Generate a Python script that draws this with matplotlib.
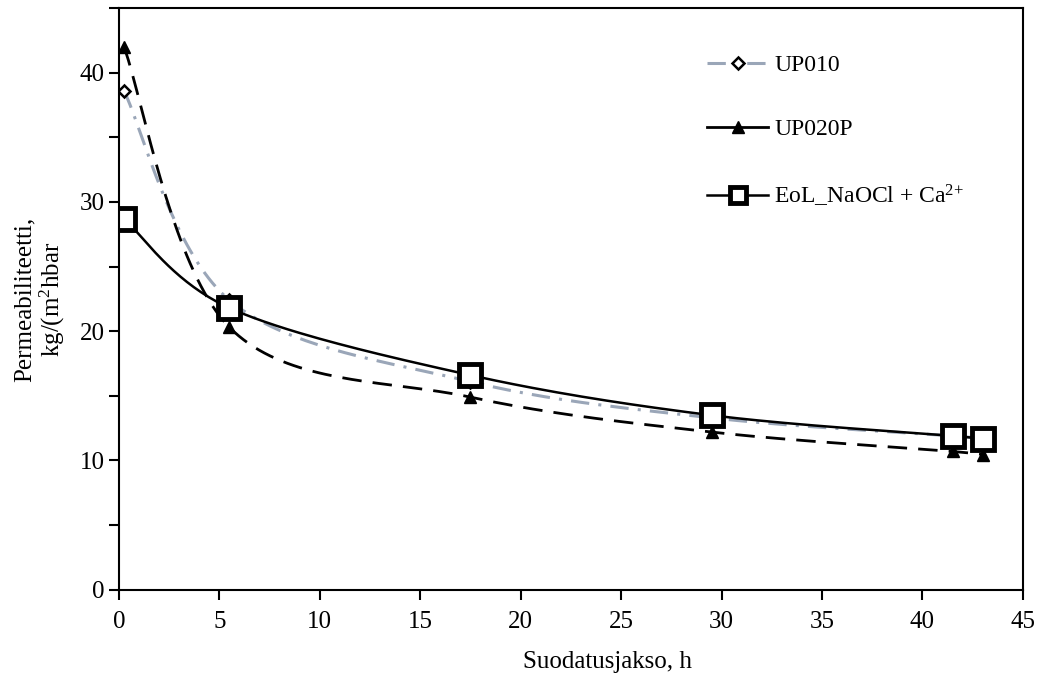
import numpy as np
import matplotlib.pyplot as plt
from matplotlib.ticker import MultipleLocator

plt.rcParams['font.family'] = ['Liberation Serif', 'DejaVu Serif']
plt.rcParams['mathtext.fontset'] = 'custom'
plt.rcParams['mathtext.rm'] = 'Liberation Serif'
plt.rcParams['mathtext.default'] = 'regular'

# filtration time (h)
hours = [0.25, 5.5, 17.5, 29.5, 41.5, 43.0]

# permeability kg/(m2 h bar)
up010 = [38.6, 22.4, 16.1, 13.3, 11.9, 11.7]
up020p = [42.0, 20.3, 14.9, 12.2, 10.7, 10.4]
eol = [28.7, 21.8, 16.6, 13.5, 11.9, 11.7]

labels = ['UP010', 'UP020P', 'EoL_NaOCl + Ca$^{2{+}}$']


def smooth(x, y, n=40):
    # excel-style smoothed line (uniform catmull-rom)
    p = np.column_stack([x, y]).astype(float)
    p = np.vstack([p[0], p, p[-1]])
    out = []
    t = np.linspace(0, 1, n)[:, None]
    for i in range(1, len(p) - 2):
        p0, p1, p2, p3 = p[i - 1], p[i], p[i + 1], p[i + 2]
        seg = 0.5 * ((2 * p1) + (-p0 + p2) * t + (2 * p0 - 5 * p1 + 4 * p2 - p3) * t ** 2
                     + (-p0 + 3 * p1 - 3 * p2 + p3) * t ** 3)
        out.append(seg)
    out = np.vstack(out)
    return out[:, 0], out[:, 1]


fig = plt.figure(figsize=(10.39, 6.74), dpi=100)
ax = fig.add_axes([0.1145, 0.125, 0.8700, 0.8630])

grey = '#9aa6b8'
dashdot = (0, (6, 3, 1, 3))

# UP010
sx, sy = smooth(hours, up010)
ax.plot(sx, sy, color=grey, lw=2.2, ls=dashdot)
ax.plot(hours, up010, ls='none', marker='D', ms=6, mfc='white', mec='black', mew=1.8)

# UP020P
sx, sy = smooth(hours, up020p)
ax.plot(sx, sy, color='black', lw=2, ls=(0, (7, 4)))
ax.plot(hours, up020p, ls='none', marker='^', ms=8, color='black')

# EoL
sx, sy = smooth(hours, eol)
ax.plot(sx, sy, color='black', lw=1.8)
ax.plot(hours, eol, ls='none', marker='s', ms=16, mfc='white', mec='black', mew=3.5)

# legend handles
h1, = ax.plot([], [], color=grey, lw=2.2, ls=dashdot, marker='D', ms=6,
              mfc='white', mec='black', mew=1.8)
h2, = ax.plot([], [], color='black', lw=2, marker='^', ms=8)
h3, = ax.plot([], [], color='black', lw=1.8, marker='s', ms=12, mfc='white', mec='black', mew=3.5)
ax.legend([h1, h2, h3], labels, loc='upper left', bbox_to_anchor=(0.627, 0.957),
          frameon=False, fontsize=17, labelspacing=1.8, handlelength=2.6, handletextpad=0.25)

ax.set_xlim(0, 45)
ax.set_ylim(0, 45)
ax.xaxis.set_major_locator(MultipleLocator(5))
ax.yaxis.set_major_locator(MultipleLocator(10))
ax.yaxis.set_minor_locator(MultipleLocator(5))
ax.tick_params(axis='both', which='both', direction='out', labelsize=18, width=1.5)
ax.tick_params(axis='both', which='major', length=7)
ax.tick_params(axis='y', which='minor', length=7)
ax.tick_params(axis='x', pad=8)
ax.set_yticks([0, 10, 20, 30, 40])
for s in ax.spines.values():
    s.set_linewidth(1.5)

ax.set_xlabel('Suodatusjakso, h', fontsize=18)
ax.xaxis.set_label_coords(0.54, -0.105)
ax.set_ylabel('Permeabiliteetti,\nkg/(m$^2$hbar', fontsize=18, linespacing=1.1)
ax.yaxis.set_label_coords(-0.058, 0.5)

plt.savefig('out.png', dpi=100)
